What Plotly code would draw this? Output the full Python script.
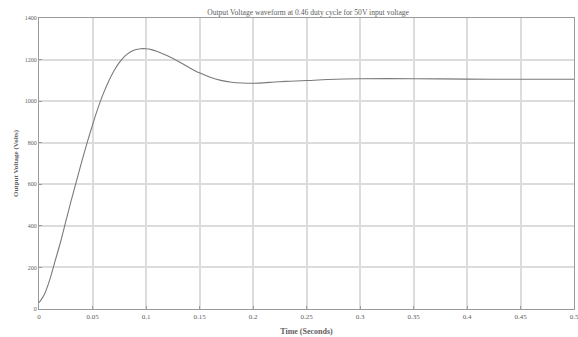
import plotly.graph_objects as go

time_s = [0, 0.005, 0.01, 0.015, 0.02, 0.025, 0.03, 0.035, 0.04, 0.045, 0.05, 0.055,
          0.06, 0.065, 0.07, 0.075, 0.08, 0.085, 0.09, 0.095, 0.1, 0.105, 0.11, 0.12,
          0.13, 0.14, 0.15, 0.16, 0.17, 0.18, 0.19, 0.2, 0.21, 0.22, 0.23, 0.24, 0.25,
          0.27, 0.3, 0.35, 0.4, 0.45, 0.5]
voltage = [30, 70, 140, 230, 320, 420, 520, 615, 710, 800, 885, 965,
           1035, 1095, 1145, 1185, 1215, 1235, 1247, 1252, 1252, 1248, 1240, 1218,
           1192, 1163, 1136, 1115, 1100, 1091, 1087, 1086, 1088, 1092, 1095, 1097, 1099,
           1104, 1108, 1108, 1106, 1105, 1105]

x_ticks = [0, 0.05, 0.1, 0.15, 0.2, 0.25, 0.3, 0.35, 0.4, 0.45, 0.5]
x_tick_labels = ["0", "0.05", "0.1", "0.15", "0.2", "0.25", "0.3", "0.35", "0.4", "0.45", "0.5"]
y_ticks = [0, 200, 400, 600, 800, 1000, 1200, 1400]

title_text = "Output Voltage waveform at 0.46 duty cycle for 50V input voltage"

fig = go.Figure()
fig.add_trace(go.Scatter(x=time_s, y=voltage, mode="lines",
                         line=dict(color="#7a7a7a", width=1.1, shape="spline", smoothing=0.8),
                         showlegend=False))

font_family = "Liberation Serif"
fig.update_layout(
    width=578, height=337,
    margin=dict(l=39, r=4, t=18, b=28),
    paper_bgcolor="white", plot_bgcolor="white",
    font=dict(family=font_family, color="#606060", size=7),
    title=dict(text=title_text, x=0.533, xanchor="center", y=0.962, yanchor="middle",
               font=dict(size=7.6, color="#606060", family=font_family)),
)
fig.update_xaxes(range=[0, 0.5], tickvals=x_ticks, ticktext=x_tick_labels,
                 showgrid=True, gridcolor="#dcdcdc", gridwidth=1.5,
                 showline=True, linecolor="#9a9a9a", linewidth=1.2, mirror=True,
                 ticks="inside", ticklen=3, tickcolor="#9a9a9a",
                 zeroline=False, tickfont=dict(size=7), automargin=False,
                 ticklabeloverflow="allow",
                 title=dict(text="<b>Time (Seconds)</b>", font=dict(size=8), standoff=8))
fig.update_yaxes(range=[0, 1400], tickvals=y_ticks,
                 showgrid=True, gridcolor="#dcdcdc", gridwidth=1.5,
                 showline=True, linecolor="#9a9a9a", linewidth=1.2, mirror=True,
                 ticks="inside", ticklen=3, tickcolor="#9a9a9a",
                 zeroline=False, tickfont=dict(size=6), automargin=False,
                 ticklabeloverflow="allow",
                 title=dict(text="<b>Output Voltage (Volts)</b>", font=dict(size=7), standoff=5))

fig.write_html("out.html", config={"displayModeBar": False},
               post_script="document.body.style.margin='0';")
